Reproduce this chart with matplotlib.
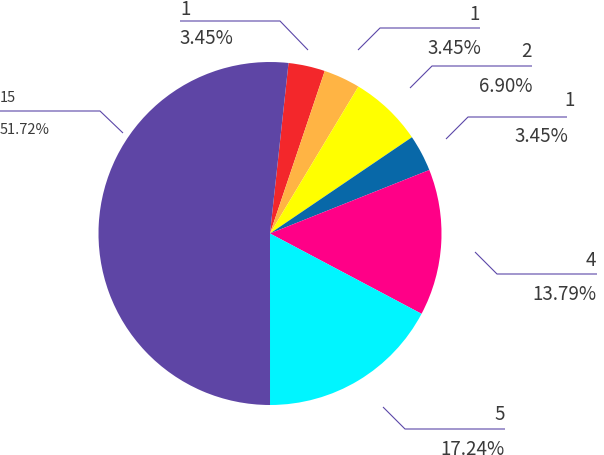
import matplotlib
matplotlib.use('Agg')
import matplotlib.pyplot as plt

# ---- data ----
values = [1, 1, 2, 1, 4, 5, 15]
colors = ['#f3272b', '#ffb444', '#ffff00', '#0868a8', '#ff0087', '#00f5ff', '#5e45a5']
total = sum(values)
value_labels = [str(v) for v in values]
pct_labels = [f"{v / total * 100:.2f}%" for v in values]

# ---- layout (pixel coordinates, y measured from top) ----
W, H = 604, 456
# leader line: start, elbow, end ; text: value (x, baseline), pct (x, baseline), align, size
layout = [
    ((308, 51), (280, 22), (180, 22), (180, 14.5), (179, 44), 'left', 13.5),
    ((358, 51), (380, 29), (480, 29), (480, 19.5), (481, 53.5), 'right', 13.5),
    ((410, 89), (432, 67), (532, 67), (532, 57), (532, 91.5), 'right', 13.5),
    ((446, 140), (468, 118), (567, 118), (575, 106), (568, 142.5), 'right', 13.5),
    ((475, 253), (497, 275), (597, 275), (596, 265.5), (597, 300), 'right', 13.5),
    ((383, 408), (405, 430), (505, 430), (504.5, 420), (505, 455), 'right', 13.5),
    ((123, 134), (100, 112), (0, 112), (0, 102), (0, 134), 'left', 10.5),
]

plt.rcParams['font.family'] = ['Noto Sans CJK SC', 'DejaVu Sans']

fig = plt.figure(figsize=(W / 100, H / 100), dpi=100)
ax = fig.add_axes([0, 0, 1, 1])

cx, cy, r = 270, 234.5, 171.5
ax.pie(values, colors=colors, startangle=83.8, counterclock=False,
       center=(cx, H - cy), radius=r, wedgeprops=dict(linewidth=0), frame=True)

ax.set_xlim(0, W)
ax.set_ylim(0, H)
ax.axis('off')

def Y(y):
    return H - y

line_color = '#5b47a8'
text_color = '#3a3a3a'
for i, (p0, p1, p2, tv, tp, ha, fs) in enumerate(layout):
    ax.plot([p0[0], p1[0], p2[0]], [Y(p0[1]), Y(p1[1]), Y(p2[1])],
            color=line_color, lw=0.8, solid_capstyle='butt')
    ax.text(tv[0], Y(tv[1]), value_labels[i], ha=ha, va='baseline',
            fontsize=fs, color=text_color)
    ax.text(tp[0], Y(tp[1]), pct_labels[i], ha=ha, va='baseline',
            fontsize=fs, color=text_color)

fig.savefig('out.png', dpi=100)
